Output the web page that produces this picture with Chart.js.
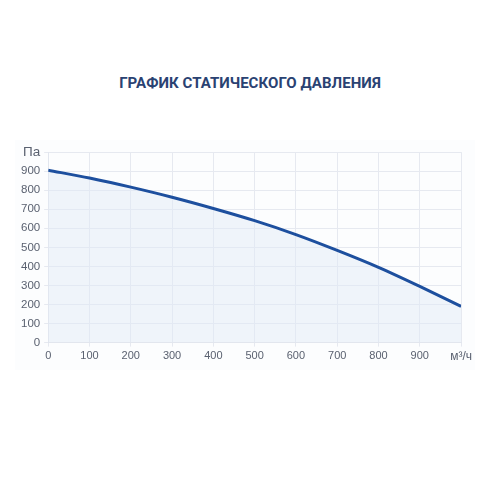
<!DOCTYPE html>
<html><head><meta charset="utf-8">
<script src="https://cdn.jsdelivr.net/npm/chart.js@4"></script>
<style>
html,body{margin:0;padding:0;background:#fff;width:500px;height:500px;overflow:hidden;font-family:Roboto,"Noto Sans",sans-serif}
#title{position:absolute;left:0;top:74px;width:500px;text-align:center;font:bold 15px Roboto,"Noto Sans",sans-serif;color:#2a4272;letter-spacing:0.05px}
#wrap{position:absolute;left:15px;top:140px;width:460px;height:230px;background:#fcfdfe}
</style></head>
<body>
<div id="title">ГРАФИК СТАТИЧЕСКОГО ДАВЛЕНИЯ</div>
<div id="wrap"><canvas id="c"></canvas></div>
<script>
const airflow = [0,100,200,300,400,500,600,700,800,900,1000];
const pressure = [905,864,816,763,704,640,567,484,395,295,190];
const yUnit = 'Па';
const xUnit = 'м³/ч';

new Chart(document.getElementById('c'), {
  type: 'line',
  data: {
    datasets: [{
      data: airflow.map((x,i)=>({x:x,y:pressure[i]})),
      borderColor: '#1d4f9e',
      borderWidth: 3,
      backgroundColor: 'rgba(225,233,246,0.45)',
      fill: 'origin',
      pointRadius: 0,
      tension: 0.3
    }]
  },
  options: {
    responsive: true,
    maintainAspectRatio: false,
    animation: false,
    layout: {padding: {top: 6, right: 12, left: 2, bottom: 3}},
    plugins: {legend: {display: false}, tooltip: {enabled: false}},
    scales: {
      x: {
        type: 'linear', min: 0, max: 1000,
        border: {color: '#e2e6ee'},
        grid: {color: '#e6e9f0', tickLength: 4},
        ticks: {
          stepSize: 100, color: '#5a6170', padding: 3, autoSkip: false, maxRotation: 0,
          font: ctx => ({family: 'Liberation Sans', size: ctx.tick && ctx.tick.value === 1000 ? 12 : 11}),
          callback: v => v === 1000 ? xUnit : v
        }
      },
      y: {
        min: 0, max: 1000,
        border: {color: '#e2e6ee'},
        grid: {color: '#e6e9f0', tickLength: 4},
        ticks: {
          stepSize: 100, color: '#5a6170', padding: 4, autoSkip: false,
          font: ctx => ({family: 'Liberation Sans', size: ctx.tick && ctx.tick.value === 1000 ? 13.5 : 11.5}),
          callback: v => v === 1000 ? yUnit : v
        }
      }
    }
  }
});
</script>
</body></html>
